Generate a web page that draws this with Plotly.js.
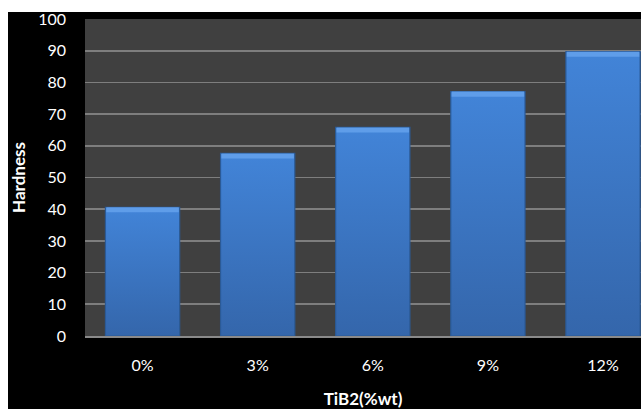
<!DOCTYPE html>
<html><head><meta charset="utf-8">
<script src="https://cdn.plot.ly/plotly-3.0.1.min.js"></script>
<style>
html,body{margin:0;padding:0;background:#fff;overflow:hidden;width:641px;height:409px;}
#chart{position:absolute;left:8px;top:0px;width:633px;height:409px;}
#topband{position:absolute;left:0;top:0;width:641px;height:12px;background:#fff;z-index:10;}
</style></head>
<body><div id="chart"></div><div id="topband"></div>
<script>
const categories = ['0%','3%','6%','9%','12%'];
const hardness = [40.6, 57.6, 65.8, 77.1, 89.7];
const yTicks = [0,10,20,30,40,50,60,70,80,90,100];

const bevel = 1.6;
const mainBars = {
  type:'bar', x:categories, y:hardness, width:0.645,
  marker:{color:'#3b74c2', line:{color:'#2b5a96', width:1.2}},
  hoverinfo:'skip'
};
const bevelBars = {
  type:'bar', x:categories, y:hardness.map(()=>bevel), base:hardness.map(v=>v-bevel),
  width:0.63, marker:{color:'#5f9de9', line:{width:0}}, hoverinfo:'skip'
};
const layout = {
  width:633, height:409,
  margin:{l:77, r:0, t:19, b:73},
  paper_bgcolor:'#000000', plot_bgcolor:'#404040',
  showlegend:false, barmode:'overlay',
  font:{family:'Lato, "Open Sans", sans-serif', color:'#ffffff', size:16},
  xaxis:{
    type:'category', range:[-0.5, 4.33], showgrid:false, zeroline:false,
    showline:true, linecolor:'#8a8a8a', linewidth:2,
    ticks:'', ticklabelstandoff:14, tickfont:{size:16, color:'#ffffff'},
    title:{text:'<b>TiB2(%wt)</b>', font:{size:17, color:'#ffffff'}, standoff:22}
  },
  yaxis:{
    range:[0,100], tickvals:yTicks, showgrid:true, gridcolor:'#7e7e7e', gridwidth:1.6,
    zeroline:false, showline:false, ticks:'', ticklabelstandoff:18,
    tickfont:{size:16, color:'#ffffff'},
    title:{text:'<b>Hardness</b>', font:{size:17, color:'#ffffff'}, standoff:19}
  }
};
Plotly.newPlot('chart',[mainBars, bevelBars],layout,{staticPlot:true, displayModeBar:false}).then(()=>{
  const svg = document.querySelector('#chart svg.main-svg');
  const ns='http://www.w3.org/2000/svg';
  const defs=document.createElementNS(ns,'defs');
  defs.innerHTML='<linearGradient id="barg" x1="0" y1="0" x2="0" y2="1"><stop offset="0" stop-color="#4284d8"/><stop offset="1" stop-color="#3466ab"/></linearGradient>';
  svg.insertBefore(defs, svg.firstChild);
  const traces=document.querySelectorAll('#chart .barlayer .trace');
  if(traces.length) traces[0].querySelectorAll('path').forEach(p=>{p.style.fill='url(#barg)';});
});
</script></body></html>
